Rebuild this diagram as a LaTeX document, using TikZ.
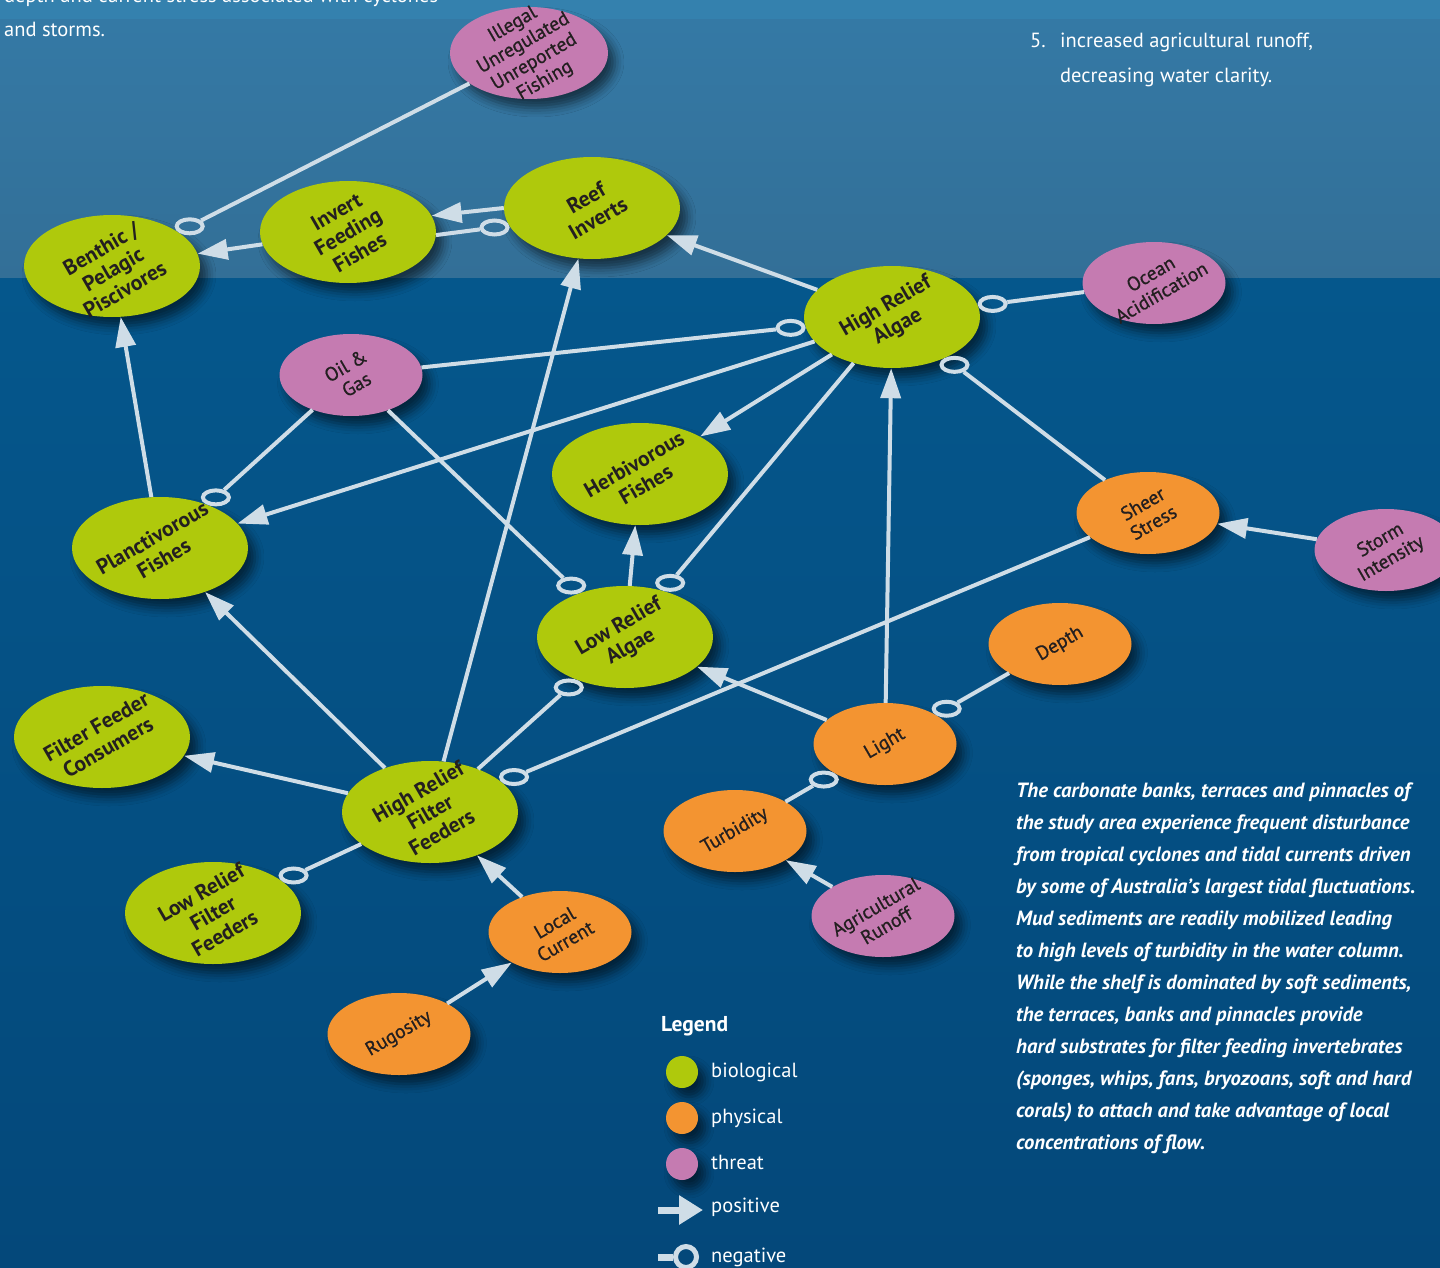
\documentclass[tikz,border=0pt]{standalone}
\usepackage{fontspec}
\setmainfont{PT Sans}
\newfontfamily\semib[FakeBold=0.8]{PT Sans}
\usetikzlibrary{shapes.geometric,arrows.meta,calc,shadows.blur}
\definecolor{bio}{HTML}{AFC90C}
\definecolor{phys}{HTML}{F39431}
\definecolor{threat}{HTML}{C57BB1}
\definecolor{txt}{HTML}{231F20}
\definecolor{linec}{HTML}{CFDDE7}
\definecolor{topA}{HTML}{3481AE}
\definecolor{topB}{HTML}{3479A5}
\definecolor{topC}{HTML}{336F97}
\definecolor{botA}{HTML}{05578C}
\definecolor{botB}{HTML}{04487A}
\tikzset{
  ellbase/.style={ellipse, inner sep=0pt,
    blur shadow={shadow xshift=7pt, shadow yshift=-9pt, shadow blur radius=9pt, shadow opacity=55}},
  bigell/.style={ellbase, minimum width=176pt, minimum height=102pt},
  smallell/.style={ellbase, minimum width=143pt, minimum height=82pt},
  bio/.style={bigell, fill=bio},
  phys/.style={smallell, fill=phys},
  threat/.style={smallell, fill=threat},
  lbl/.style={rotate=30, align=center, text=txt, inner sep=0pt},
  lblbio/.style={lbl, font=\bfseries\fontsize{21.5}{23.5}\selectfont},
  lblsm/.style={lbl, font=\semib\fontsize{19.5}{21.5}\selectfont},
  conn/.style={draw=linec, line width=4pt},
  posarr/.style={conn, -{Triangle[length=30pt, width=20pt]}},
  negmark/.style={ellipse, draw=linec, line width=4pt, minimum width=26pt, minimum height=14pt, inner sep=0pt},
  wtxt/.style={text=white, inner sep=0pt, anchor=base west, font=\fontsize{20.5}{24}\selectfont},
}
\newcommand\negedge[3]{%
  \path (#1) -- (#2) coordinate[pos=1] (b-#1-#2);
  \node[negmark] (m-#1-#2) at ($(b-#1-#2)!#3pt!(#1)$) {};
  \draw[conn] (#1) -- (m-#1-#2);
}
\begin{document}
\begin{tikzpicture}[x=1pt,y=-1pt]
\useasboundingbox (0,0) rectangle (1440,1268);
% background
\fill[topA] (0,0) rectangle (1440,21);
\shade[top color=topB, bottom color=topC] (0,20) rectangle (1440,278);
\shade[top color=botA, bottom color=botB] (0,278) rectangle (1440,1268);

% top texts
\node[wtxt] (t1) at (4,3) {depth and current stress associated with cyclones};
\node[wtxt] (t2) at (4,37) {and storms.};
\node[wtxt] (t3) at (1030,48) {5.};
\node[wtxt] (t4) at (1060,48) {increased agricultural runoff,};
\node[wtxt] (t5) at (1060,83) {decreasing water clarity.};

% nodes
\node[threat, minimum width=158pt, minimum height=92pt] (iuu) at (529,53) {};
\node[bio] (benthic) at (112,266) {};
\node[bio] (invert) at (348,232) {};
\node[bio] (reef) at (592,208) {};
\node[bio] (hra) at (892,317) {};
\node[threat] (oa) at (1154,283) {};
\node[threat] (oil) at (351,375) {};
\node[bio] (herb) at (640,474) {};
\node[bio] (planct) at (160,548) {};
\node[phys] (sheer) at (1148,513) {};
\node[threat] (storm) at (1386,550) {};
\node[bio] (lra) at (625,637) {};
\node[phys] (depth) at (1060,644) {};
\node[bio] (ffc) at (102,737) {};
\node[phys] (light) at (885,744) {};
\node[bio] (hrff) at (430,812) {};
\node[phys] (turb) at (735,831) {};
\node[bio] (lrff) at (213,913) {};
\node[phys] (local) at (560,932) {};
\node[threat] (agri) at (883,916) {};
\node[phys] (rug) at (399,1034) {};

% labels
\node[lblsm] (iuu-t) at (iuu) {Illegal\\Unregulated\\Unreported\\Fishing};
\node[lblbio] (benthic-t) at ([xshift=1pt,yshift=-3pt]benthic) {Benthic /\\Pelagic\\Piscivores};
\node[lblbio] (invert-t) at (invert) {Invert\\Feeding\\Fishes};
\node[lblbio] (reef-t) at (reef) {Reef\\Inverts};
\node[lblbio] (hra-t) at (hra) {High Relief\\Algae};
\node[lblsm] (oa-t) at ([xshift=2pt]oa) {Ocean\\Acidification};
\node[lblsm] (oil-t) at (oil) {Oil \&\\Gas};
\node[lblbio] (herb-t) at (herb) {Herbivorous\\Fishes};
\node[lblbio] (planct-t) at ([xshift=-2pt]planct) {Planctivorous\\Fishes};
\node[lblsm] (sheer-t) at (sheer) {Sheer\\Stress};
\node[lblsm] (storm-t) at (storm) {Storm\\Intensity};
\node[lblbio] (lra-t) at (lra) {Low Relief\\Algae};
\node[lblsm] (depth-t) at (depth) {Depth};
\node[lblbio] (ffc-t) at (ffc) {Filter Feeder\\Consumers};
\node[lblsm] (light-t) at (light) {Light};
\node[lblbio] (hrff-t) at (hrff) {High Relief\\Filter\\Feeders};
\node[lblsm] (turb-t) at (turb) {Turbidity};
\node[lblbio] (lrff-t) at (lrff) {Low Relief\\Filter\\Feeders};
\node[lblsm] (local-t) at (local) {Local\\Current};
\node[lblsm] (agri-t) at ([xshift=-2pt]agri) {Agricultural\\Runoff};
\node[lblsm] (rug-t) at (rug) {Rugosity};

% positive connectors
\draw[posarr] (invert) -- (benthic);
\draw[posarr] (reef.180) -- (invert.11);
\draw[posarr] (hra) -- (reef);
\draw[posarr] (hra) -- (planct);
\draw[posarr] (hra) -- (herb);
\draw[posarr] (storm) -- (sheer);
\draw[posarr] (light) -- (hra);
\draw[posarr] (lra) -- (herb);
\draw[posarr] (planct) -- (benthic);
\draw[posarr] (hrff) -- (reef);
\draw[posarr] (hrff) -- (planct);
\draw[posarr] (hrff) -- (ffc);
\draw[posarr] (light) -- (lra);
\draw[posarr] (agri) -- (turb);
\draw[posarr] (local) -- (hrff);
\draw[posarr] (rug) -- (local);

% negative connectors
\negedge{iuu}{benthic}{12.9}
\node[negmark] (m-invert-reef) at ($(reef.192)!14.8pt!(invert.358)$) {};
\draw[conn] (invert.358) -- (m-invert-reef);
\negedge{oa}{hra}{14.7}
\negedge{oil}{hra}{14.8}
\negedge{hra}{lra}{10.5}
\negedge{sheer}{hra}{11.6}
\negedge{oil}{planct}{11.2}
\negedge{oil}{lra}{11.1}
\negedge{hrff}{lra}{11.2}
\negedge{sheer}{hrff}{13.4}
\negedge{depth}{light}{12.5}
\negedge{turb}{light}{12.5}
\negedge{hrff}{lrff}{13.0}

% legend
\node[wtxt, font=\bfseries\fontsize{21.5}{24}\selectfont] (lg) at (661,1031) {Legend};
\fill[bio] (682,1072) circle (16) coordinate (lgc1);
\fill[phys] (682,1118) circle (16) coordinate (lgc2);
\fill[threat] (682,1164) circle (16) coordinate (lgc3);
\node[wtxt] (lg1) at (711,1077) {biological};
\node[wtxt] (lg2) at (711,1123) {physical};
\node[wtxt] (lg3) at (711,1169) {threat};
\node[wtxt] (lg4) at (711,1212) {positive};
\node[wtxt] (lg5) at (711,1262) {negative};
\coordinate (lpa) at (658,1210);
\coordinate (lpb) at (703,1210);
\draw[draw=linec, line width=7pt, -{Triangle[length=24pt, width=28pt]}] (lpa) -- (lpb);
\node[circle, draw=linec, line width=5pt, minimum size=21pt, inner sep=0pt] (lnc) at (686,1257) {};
\coordinate (lna) at (658,1257);
\draw[draw=linec, line width=7pt] (lna) -- (lnc);

% paragraph
\node[text=white, inner sep=0pt, anchor=north west, align=left,
      font=\bfseries\itshape\fontsize{20.6}{32}\selectfont] (para) at (1016,783)
{The carbonate banks, terraces and pinnacles of\\
the study area experience frequent disturbance\\
from tropical cyclones and tidal currents driven\\
by some of Australia’s largest tidal fluctuations.\\
Mud sediments are readily mobilized leading\\
to high levels of turbidity in the water column.\\
While the shelf is dominated by soft sediments,\\
the terraces, banks and pinnacles provide\\
hard substrates for filter feeding invertebrates\\
(sponges, whips, fans, bryozoans, soft and hard\\
corals) to attach and take advantage of local\\
concentrations of flow.};
\end{tikzpicture}
\end{document}
